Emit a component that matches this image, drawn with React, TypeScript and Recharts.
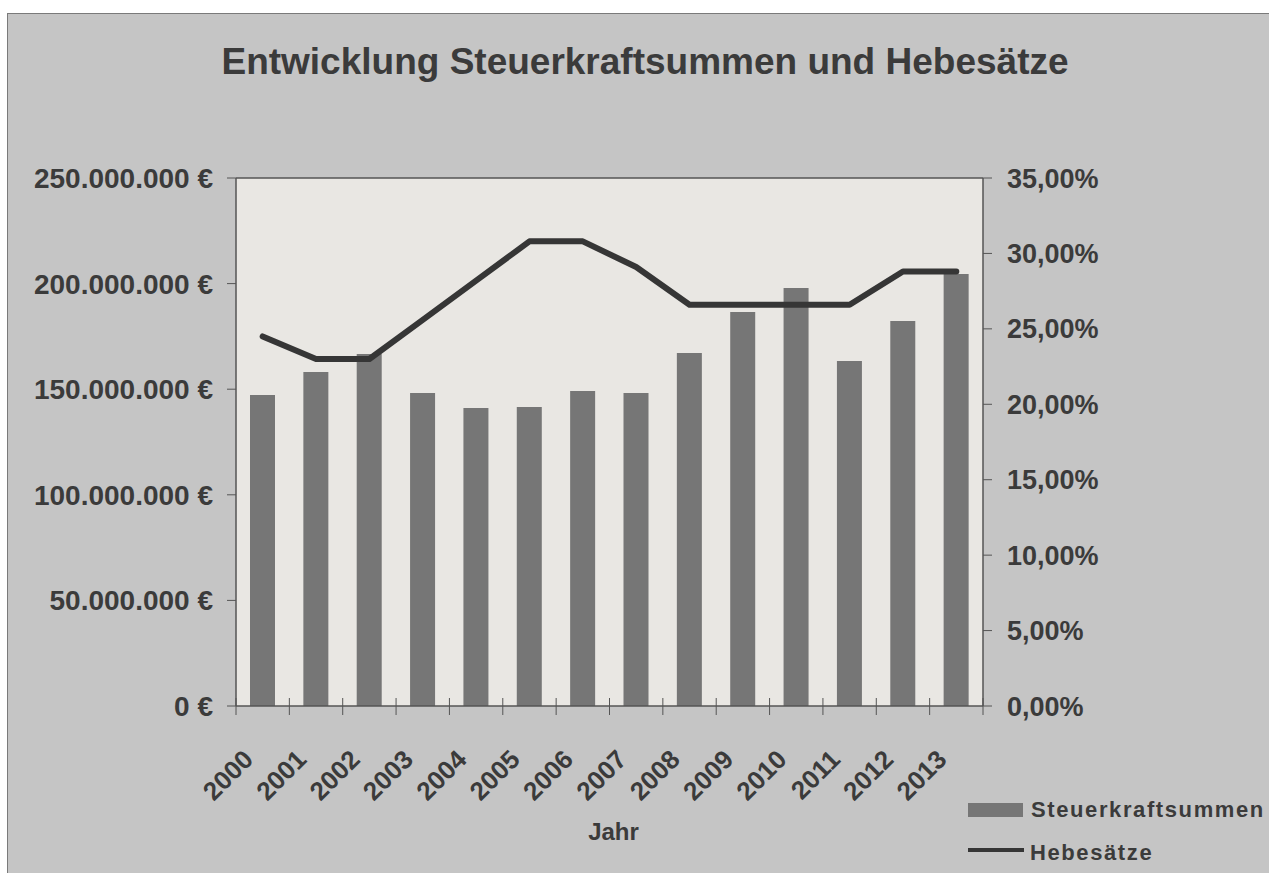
import { ComposedChart, Bar, Line, XAxis, YAxis, CartesianGrid, ReferenceLine } from 'recharts';

const years = ['2000', '2001', '2002', '2003', '2004', '2005', '2006', '2007', '2008', '2009', '2010', '2011', '2012', '2013'];
const steuerkraftsummen = [147300000, 158100000, 166700000, 148200000, 141100000, 141600000, 149100000, 148200000, 167100000, 186600000, 197900000, 163400000, 182300000, 204500000];
const hebesaetze = [24.5, 23.0, 23.0, 25.6, 28.2, 30.8, 30.8, 29.1, 26.6, 26.6, 26.6, 26.6, 28.8, 28.8];
const euroTicks = [0, 50000000, 100000000, 150000000, 200000000, 250000000];
const percentTicks = [0, 5, 10, 15, 20, 25, 30, 35];

const data = years.map((year, i) => ({
  year,
  steuerkraft: steuerkraftsummen[i],
  hebesatz: hebesaetze[i],
}));

const FONT = '"Liberation Sans", Arial, Helvetica, sans-serif';
const TEXT = '#3b3b3b';
const AXIS = '#555555';
const BAR = '#767676';
const LINE = '#363636';

const CHART_W = 1262;
const CHART_H = 860;
const LEFT_W = 229;
const RIGHT_W = 286;
const PLOT_W = CHART_W - LEFT_W - RIGHT_W;

const formatEuro = (v: number) =>
  `${String(Math.round(v)).replace(/\B(?=(\d{3})+(?!\d))/g, '.')} €`;
const formatPercent = (v: number) => `${v.toFixed(2).replace('.', ',')}%`;

const YearTick = (props: any) => {
  const { x, y, payload, index } = props;
  const band = PLOT_W / years.length;
  const last = index === years.length - 1;
  return (
    <g>
      <line x1={x - band / 2} x2={x - band / 2} y1={y - 8} y2={y + 9} stroke={AXIS} strokeWidth={1} />
      {last && <line x1={x + band / 2} x2={x + band / 2} y1={y - 8} y2={y + 9} stroke={AXIS} strokeWidth={1} />}
      <text
        transform={`translate(${x - 8},${y + 55}) rotate(-45)`}
        textAnchor="end"
        fill={TEXT}
        fontSize={26}
        fontWeight="bold"
        fontFamily={FONT}
      >
        {payload.value}
      </text>
    </g>
  );
};

export default function App() {
  return (
    <div
      style={{
        position: 'absolute',
        left: 7,
        top: 13,
        width: CHART_W,
        height: CHART_H,
        background: '#c5c5c5',
        boxShadow: 'inset 1px 1px 0 #7a7a7a',
        fontFamily: FONT,
      }}
    >
      <div
        style={{
          position: 'absolute',
          left: 138,
          top: 30,
          width: 1000,
          textAlign: 'center',
          fontSize: 37,
          lineHeight: '37px',
          fontWeight: 'bold',
          color: TEXT,
          whiteSpace: 'nowrap',
        }}
      >
        Entwicklung Steuerkraftsummen und Hebesätze
      </div>

      <div style={{ position: 'absolute', left: 0, top: 0 }}>
        <ComposedChart width={CHART_W} height={CHART_H} data={data} margin={{ top: 165, right: 0, left: 0, bottom: 0 }}>
          <CartesianGrid yAxisId="left" fill="#e9e7e3" horizontal={false} vertical={false} />
          <XAxis
            dataKey="year"
            height={167}
            tickSize={0}
            tickMargin={0}
            tickLine={false}
            axisLine={{ stroke: AXIS, strokeWidth: 1.5 }}
            interval={0}
            tick={<YearTick />}
            label={{
              value: 'Jahr',
              position: 'insideBottom',
              offset: 33,
              dx: 4,
              fill: TEXT,
              fontSize: 24,
              fontWeight: 'bold',
              fontFamily: FONT,
            }}
          />
          <YAxis
            yAxisId="left"
            width={LEFT_W}
            domain={[0, 250000000]}
            ticks={euroTicks}
            tickFormatter={formatEuro}
            tickSize={9}
            tickMargin={14}
            axisLine={{ stroke: AXIS, strokeWidth: 1.5 }}
            tickLine={{ stroke: AXIS }}
            tick={{ fill: TEXT, fontSize: 28, fontWeight: 'bold', fontFamily: FONT }}
          />
          <YAxis
            yAxisId="right"
            orientation="right"
            width={RIGHT_W}
            domain={[0, 35]}
            ticks={percentTicks}
            tickFormatter={formatPercent}
            tickSize={9}
            tickMargin={15}
            axisLine={{ stroke: AXIS, strokeWidth: 1.5 }}
            tickLine={{ stroke: AXIS }}
            tick={{ fill: TEXT, fontSize: 27, fontWeight: 'bold', fontFamily: FONT }}
          />
          <ReferenceLine yAxisId="left" y={250000000} stroke={AXIS} strokeWidth={1.5} />
          <Bar yAxisId="left" dataKey="steuerkraft" name="Steuerkraftsummen" fill={BAR} barSize={25} isAnimationActive={false} />
          <Line
            yAxisId="right"
            dataKey="hebesatz"
            name="Hebesätze"
            type="linear"
            stroke={LINE}
            strokeWidth={6}
            strokeLinejoin="round"
            strokeLinecap="round"
            dot={false}
            activeDot={false}
            isAnimationActive={false}
          />
        </ComposedChart>
      </div>

      <svg style={{ position: 'absolute', left: 0, top: 0 }} width={CHART_W} height={CHART_H} pointerEvents="none">
        <rect x={961} y={790} width={55} height={14} fill={BAR} />
        <text x={1024} y={804} fill={TEXT} fontSize={22} fontWeight="bold" fontFamily={FONT} letterSpacing={1.6}>
          Steuerkraftsummen
        </text>
        <line x1={961} x2={1017} y1={837} y2={837} stroke={LINE} strokeWidth={4} />
        <text x={1023} y={847} fill={TEXT} fontSize={22} fontWeight="bold" fontFamily={FONT} letterSpacing={1.6}>
          Hebesätze
        </text>
      </svg>
    </div>
  );
}
